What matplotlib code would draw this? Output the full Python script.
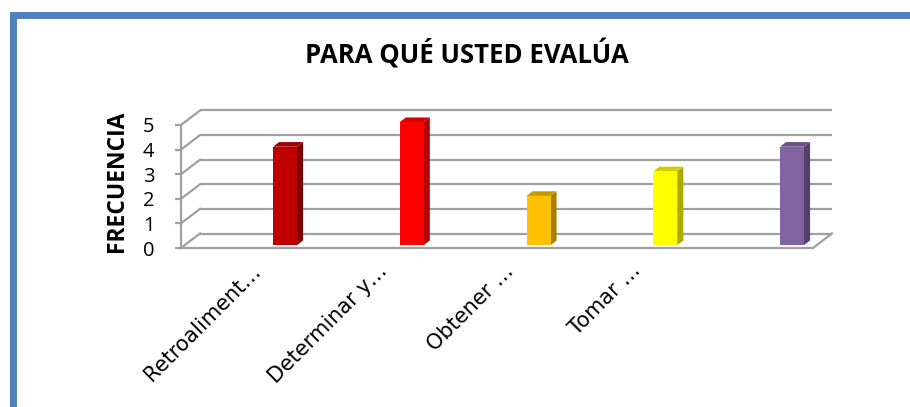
import matplotlib
matplotlib.use("Agg")
import matplotlib.pyplot as plt
import numpy as np
from matplotlib.patches import Polygon, Rectangle
from matplotlib.transforms import ScaledTranslation

# datos
categorias = ["Retroaliment…", "Determinar y…", "Obtener …", "Tomar …", ""]
frecuencia = [4, 5, 2, 3, 4]
colores_frente = ["#C00000", "#FF0000", "#FFC000", "#FFFF00", "#8064A2"]
colores_lado = ["#7A0000", "#B50000", "#A87E00", "#AAAA00", "#54406C"]
colores_techo = ["#A00000", "#D80000", "#C89800", "#CFCF00", "#6A5288"]
yticks = [0, 1, 2, 3, 4, 5]

TITULO = "PARA QUÉ USTED EVALÚA"
YLABEL = "FRECUENCIA"

# geometria (pixeles de la imagen de referencia -> unidades de datos)
W, H, DPI = 910, 407, 100
X0, PX = 281.2, 126.75      # centro categoria 0 en plano frontal, paso
Y0, PY = 248.0, 24.6        # valor 0 en plano frontal, px por unidad
DX, DY = 19 / PX, 14.5 / PY  # profundidad de la caja
XL, XR = (181 - X0) / PX, (813 - X0) / PX
BAR_W = 24 / PX
BAR_Z, BAR_D = 0.2, 0.32     # posicion y profundidad de las barras
GRID = "#A0A0A0"

fig = plt.figure(figsize=(W / DPI, H / DPI), dpi=DPI)
fig.patch.set_facecolor("white")
ax = fig.add_axes([0, 0, 1, 1])
ax.set_xlim(-X0 / PX, (W - X0) / PX)
ax.set_ylim((Y0 - H) / PY, Y0 / PY)
ax.set_facecolor("none")

# pared del fondo y lateral
for k in yticks:
    ax.plot([XL + DX, XR + DX], [k + DY, k + DY], color=GRID, lw=1.6, zorder=1,
            solid_capstyle="butt")
    ax.plot([XL, XL + DX], [k, k + DY], color=GRID, lw=1.6, zorder=1)
ax.plot([XR, XR + DX], [0, DY], color=GRID, lw=1.6, zorder=1)

# barras 3D
x = np.arange(len(frecuencia))
bx = x + BAR_Z * DX
by = BAR_Z * DY
ax.bar(bx, frecuencia, width=BAR_W, bottom=by, color=colores_frente, zorder=3,
       linewidth=0)
for xi, v, cl, ct in zip(bx, frecuencia, colores_lado, colores_techo):
    l, r = xi - BAR_W / 2, xi + BAR_W / 2
    ddx, ddy = BAR_D * DX, BAR_D * DY
    ax.add_patch(Polygon([(r, by), (r + ddx, by + ddy), (r + ddx, by + v + ddy), (r, by + v)],
                         closed=True, facecolor=cl, lw=0, zorder=2))
    ax.add_patch(Polygon([(l, by + v), (r, by + v), (r + ddx, by + v + ddy), (l + ddx, by + v + ddy)],
                         closed=True, facecolor=ct, lw=0, zorder=2))

# ejes
for side in ("top", "right"):
    ax.spines[side].set_visible(False)
ax.spines["left"].set_position(("data", XL))
ax.spines["left"].set_bounds(0, 5)
ax.spines["bottom"].set_position(("data", 0))
ax.spines["bottom"].set_bounds(XL, XR)
for side in ("left", "bottom"):
    ax.spines[side].set_color(GRID)
    ax.spines[side].set_linewidth(1.6)

ax.set_yticks(yticks)
ax.set_yticklabels([str(t) for t in yticks], fontsize=14.5, family=["Open Sans", "DejaVu Sans"])
ax.tick_params(axis="y", length=4, width=1.6, color=GRID, pad=15)

ax.set_xticks(x)
ax.set_xticklabels(categorias, fontsize=15, rotation=45, ha="right", va="top")
ax.tick_params(axis="x", length=0, pad=9)
shift = ScaledTranslation(-17 / DPI, 0, fig.dpi_scale_trans)
for lab in ax.get_xticklabels():
    lab.set_transform(lab.get_transform() + shift)

# textos
fig.text(467 / W, 1 - 55 / H, TITULO, ha="center", va="center", fontsize=18.5,
         fontweight="bold", family=["Open Sans", "DejaVu Sans"])
fig.text(117 / W, 1 - 181 / H, YLABEL, ha="center", va="center", rotation=90,
         fontsize=16.5, fontweight="bold", family=["Open Sans", "DejaVu Sans"])

# marco azul
fig.patches.append(Rectangle((12.5 / W, -0.1), 2, 1.1 - 14.5 / H,
                             transform=fig.transFigure, fill=False,
                             edgecolor="#4F81BD", lw=5, zorder=10))

fig.savefig("out.png", dpi=DPI)
